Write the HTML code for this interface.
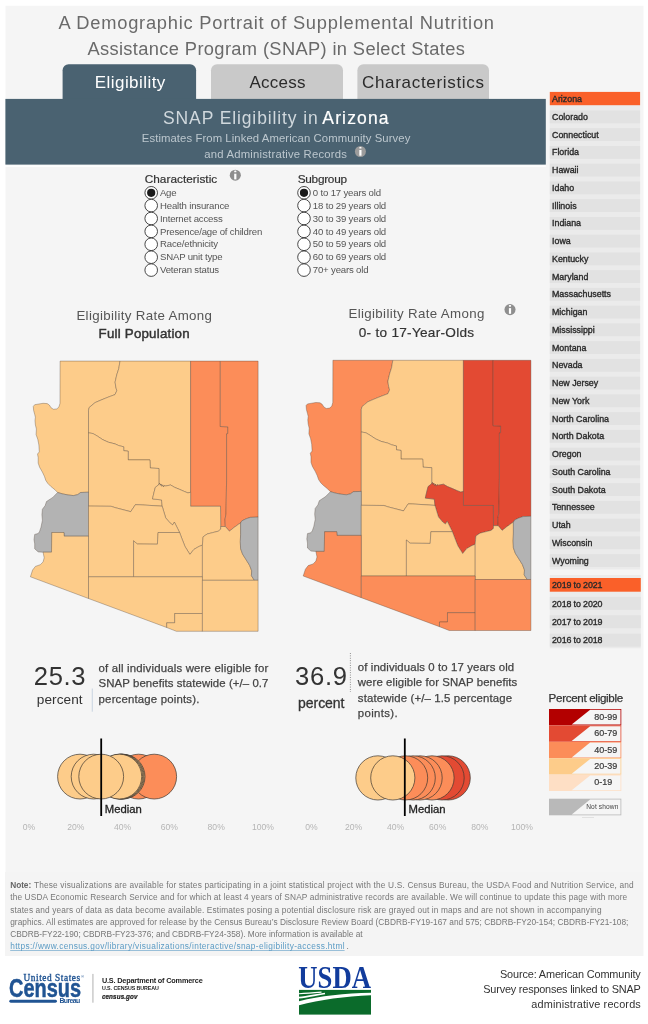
<!DOCTYPE html>
<html lang="en"><head><meta charset="utf-8"><title>SNAP Eligibility in Arizona</title>
<style>
html,body{margin:0;padding:0;background:#fff;}
body{width:648px;height:1024px;overflow:hidden;font-family:"Liberation Sans",sans-serif;}
svg{display:block}
</style></head><body>
<svg width="648" height="1024" viewBox="0 0 648 1024">
<rect x="0" y="0" width="648" height="1024" fill="#ffffff"/>
<rect x="5.5" y="5.8" width="638" height="950.2" fill="#f5f5f5"/>
<text x="58.5" y="28.8" font-size="18.3" fill="#6a6a6a" font-family="Liberation Sans, sans-serif" textLength="435.5" lengthAdjust="spacing" >A Demographic Portrait of Supplemental Nutrition</text>
<text x="87.4" y="54.6" font-size="18.3" fill="#6a6a6a" font-family="Liberation Sans, sans-serif" textLength="377.5" lengthAdjust="spacing" >Assistance Program (SNAP) in Select States</text>
<path d="M62.6 99 V70.2 a6 6 0 0 1 6 -6 H190.1 a6 6 0 0 1 6 6 V99 Z" fill="#4a6271"/>
<path d="M211 99 V70.2 a6 6 0 0 1 6 -6 H337 a6 6 0 0 1 6 6 V99 Z" fill="#c9c9c9"/>
<path d="M357.4 99 V70.2 a6 6 0 0 1 6 -6 H483 a6 6 0 0 1 6 6 V99 Z" fill="#c9c9c9"/>
<text x="94.8" y="88.0" font-size="17" fill="#ffffff" font-family="Liberation Sans, sans-serif" textLength="70.5" lengthAdjust="spacing" >Eligibility</text>
<text x="249.5" y="88.0" font-size="17" fill="#2b2b2b" font-family="Liberation Sans, sans-serif" textLength="56.0" lengthAdjust="spacing" >Access</text>
<text x="362.0" y="88.0" font-size="17" fill="#2b2b2b" font-family="Liberation Sans, sans-serif" textLength="122.0" lengthAdjust="spacing" >Characteristics</text>
<rect x="5.4" y="98.9" width="540.4" height="65.7" fill="#4a6271"/>
<rect x="5" y="165.4" width="540.8" height="1.4" fill="#ffffff"/>
<text x="163.0" y="124.4" font-size="17.5" fill="#d0d8dd" font-family="Liberation Sans, sans-serif" textLength="154.7" lengthAdjust="spacing" >SNAP Eligibility in</text>
<text x="322.3" y="124.4" font-size="17.5" fill="#ffffff" font-family="Liberation Sans, sans-serif" textLength="66.2" lengthAdjust="spacing" stroke="#ffffff" stroke-width="0.2" >Arizona</text>
<text x="141.8" y="142.4" font-size="11.3" fill="#bcc7ce" font-family="Liberation Sans, sans-serif" textLength="268.5" lengthAdjust="spacing" >Estimates From Linked American Community Survey</text>
<text x="204.3" y="158.2" font-size="11.3" fill="#bcc7ce" font-family="Liberation Sans, sans-serif" textLength="142.6" lengthAdjust="spacing" >and Administrative Records</text>
<circle cx="360.4" cy="151.5" r="5.5" fill="#9c9c9c"/>
<rect x="359.3" y="150.0" width="2.2" height="5.7" fill="#ffffff"/>
<rect x="359.3" y="146.9" width="2.2" height="1.7" rx="0.6" fill="#ffffff"/>
<text x="144.7" y="182.6" font-size="11.8" fill="#333" font-family="Liberation Sans, sans-serif" textLength="72.5" lengthAdjust="spacing" stroke="#333" stroke-width="0.2" >Characteristic</text>
<circle cx="235.3" cy="175.2" r="5.55" fill="#8e8e8e"/>
<rect x="234.2" y="173.7" width="2.2" height="5.7" fill="#ffffff"/>
<rect x="234.2" y="170.6" width="2.2" height="1.7" rx="0.6" fill="#ffffff"/>
<text x="297.7" y="182.6" font-size="11.8" fill="#333" font-family="Liberation Sans, sans-serif" textLength="49.3" lengthAdjust="spacing" stroke="#333" stroke-width="0.2" >Subgroup</text>
<circle cx="151.2" cy="192.8" r="6.3" fill="#ffffff" stroke="#333" stroke-width="0.9"/>
<circle cx="151.2" cy="192.8" r="4.1" fill="#1a1a1a"/>
<text x="160.0" y="195.9" font-size="9.6" fill="#555" font-family="Liberation Sans, sans-serif" textLength="16.5" lengthAdjust="spacing" >Age</text>
<circle cx="304" cy="192.8" r="6.3" fill="#ffffff" stroke="#333" stroke-width="0.9"/>
<circle cx="304" cy="192.8" r="4.1" fill="#1a1a1a"/>
<text x="312.8" y="195.9" font-size="9.6" fill="#555" font-family="Liberation Sans, sans-serif" textLength="68.3" lengthAdjust="spacing" >0 to 17 years old</text>
<circle cx="151.2" cy="205.6" r="6.3" fill="#ffffff" stroke="#333" stroke-width="0.9"/>
<text x="160.0" y="208.7" font-size="9.6" fill="#555" font-family="Liberation Sans, sans-serif" textLength="69.4" lengthAdjust="spacing" >Health insurance</text>
<circle cx="304" cy="205.6" r="6.3" fill="#ffffff" stroke="#333" stroke-width="0.9"/>
<text x="312.8" y="208.7" font-size="9.6" fill="#555" font-family="Liberation Sans, sans-serif" textLength="73.4" lengthAdjust="spacing" >18 to 29 years old</text>
<circle cx="151.2" cy="218.5" r="6.3" fill="#ffffff" stroke="#333" stroke-width="0.9"/>
<text x="160.0" y="221.6" font-size="9.6" fill="#555" font-family="Liberation Sans, sans-serif" textLength="62.7" lengthAdjust="spacing" >Internet access</text>
<circle cx="304" cy="218.5" r="6.3" fill="#ffffff" stroke="#333" stroke-width="0.9"/>
<text x="312.8" y="221.6" font-size="9.6" fill="#555" font-family="Liberation Sans, sans-serif" textLength="73.4" lengthAdjust="spacing" >30 to 39 years old</text>
<circle cx="151.2" cy="231.4" r="6.3" fill="#ffffff" stroke="#333" stroke-width="0.9"/>
<text x="160.0" y="234.5" font-size="9.6" fill="#555" font-family="Liberation Sans, sans-serif" textLength="102.3" lengthAdjust="spacing" >Presence/age of children</text>
<circle cx="304" cy="231.4" r="6.3" fill="#ffffff" stroke="#333" stroke-width="0.9"/>
<text x="312.8" y="234.5" font-size="9.6" fill="#555" font-family="Liberation Sans, sans-serif" textLength="73.4" lengthAdjust="spacing" >40 to 49 years old</text>
<circle cx="151.2" cy="244.3" r="6.3" fill="#ffffff" stroke="#333" stroke-width="0.9"/>
<text x="160.0" y="247.4" font-size="9.6" fill="#555" font-family="Liberation Sans, sans-serif" textLength="58.1" lengthAdjust="spacing" >Race/ethnicity</text>
<circle cx="304" cy="244.3" r="6.3" fill="#ffffff" stroke="#333" stroke-width="0.9"/>
<text x="312.8" y="247.4" font-size="9.6" fill="#555" font-family="Liberation Sans, sans-serif" textLength="73.4" lengthAdjust="spacing" >50 to 59 years old</text>
<circle cx="151.2" cy="257.2" r="6.3" fill="#ffffff" stroke="#333" stroke-width="0.9"/>
<text x="160.0" y="260.3" font-size="9.6" fill="#555" font-family="Liberation Sans, sans-serif" textLength="62.5" lengthAdjust="spacing" >SNAP unit type</text>
<circle cx="304" cy="257.2" r="6.3" fill="#ffffff" stroke="#333" stroke-width="0.9"/>
<text x="312.8" y="260.3" font-size="9.6" fill="#555" font-family="Liberation Sans, sans-serif" textLength="73.4" lengthAdjust="spacing" >60 to 69 years old</text>
<circle cx="151.2" cy="270.1" r="6.3" fill="#ffffff" stroke="#333" stroke-width="0.9"/>
<text x="160.0" y="273.2" font-size="9.6" fill="#555" font-family="Liberation Sans, sans-serif" textLength="59.1" lengthAdjust="spacing" >Veteran status</text>
<circle cx="304" cy="270.1" r="6.3" fill="#ffffff" stroke="#333" stroke-width="0.9"/>
<text x="312.8" y="273.2" font-size="9.6" fill="#555" font-family="Liberation Sans, sans-serif" textLength="55.7" lengthAdjust="spacing" >70+ years old</text>
<text x="76.4" y="319.7" font-size="13.3" fill="#555" font-family="Liberation Sans, sans-serif" textLength="135.5" lengthAdjust="spacing" >Eligibility Rate Among</text>
<text x="98.6" y="338.3" font-size="13.3" fill="#333" font-family="Liberation Sans, sans-serif" textLength="91.0" lengthAdjust="spacing" stroke="#333" stroke-width="0.45" >Full Population</text>
<text x="348.5" y="318.2" font-size="13.3" fill="#555" font-family="Liberation Sans, sans-serif" textLength="135.8" lengthAdjust="spacing" >Eligibility Rate Among</text>
<text x="358.7" y="336.8" font-size="13.6" fill="#333" font-family="Liberation Sans, sans-serif" textLength="115.4" lengthAdjust="spacing" stroke="#333" stroke-width="0.2" >0- to 17-Year-Olds</text>
<circle cx="510.0" cy="309.6" r="5.55" fill="#8e8e8e"/>
<rect x="508.9" y="308.1" width="2.2" height="5.7" fill="#ffffff"/>
<rect x="508.9" y="305.0" width="2.2" height="1.7" rx="0.6" fill="#ffffff"/>
<g transform="translate(0,0)" stroke="#4f4337" stroke-opacity="0.5" stroke-width="0.7" stroke-linejoin="round">
<path d="M60.1 361.1 L120.0 361.1 L118.8 368.5 L116.8 374.7 L115.1 382.1 L115.8 387.0 L116.8 390.7 L115.0 394.6 L108.3 397.1 L101.4 399.9 L95.1 402.6 L91.7 405.4 L89.2 407.5 L88.5 410.3 L88.5 492.2 L80.6 492.5 L77.8 494.6 L73.6 495.6 L68.1 495.0 L62.5 493.9 L57.6 492.5 L54.9 489.7 L50.7 486.3 L47.9 483.5 L45.8 480.4 L44.4 476.3 L42.4 472.1 L39.6 467.2 L38.2 463.1 L38.2 457.5 L37.5 454.0 L39.3 451.9 L38.9 445.0 L37.8 439.4 L36.1 434.6 L36.4 429.0 L35.4 424.9 L35.0 420.7 L35.4 417.2 L34.7 414.4 L33.6 410.3 L33.3 406.4 L34.7 404.7 L38.9 404.0 L43.1 403.3 L47.2 403.6 L49.3 405.0 L51.1 407.8 L53.5 409.3 L56.9 408.9 L59.0 406.8 L60.0 403.3 Z" fill="#fdcc8a"/>
<path d="M120.0 361.1 L190.6 361.1 L190.6 492.3 L187.9 492.9 L184.4 491.5 L179.6 489.4 L174.7 487.4 L170.6 485.0 L165.7 486.0 L164.5 485.5 L163.6 487.0 L162.7 484.9 L161.8 486.4 L161.0 484.0 L160.3 485.4 L159.6 483.3 L158.9 484.5 L158.9 483.4 L158.9 468.5 L150.3 468.0 L149.9 459.9 L128.2 459.9 L128.2 451.2 L123.7 450.7 L123.7 446.8 L118.8 445.6 L115.0 443.9 L108.3 442.2 L102.8 439.7 L97.2 436.0 L93.1 433.6 L88.5 432.8 L88.5 410.3 L89.2 407.5 L91.7 405.4 L95.1 402.6 L101.4 399.9 L108.3 397.1 L115.0 394.6 L116.8 390.7 L115.8 387.0 L115.1 382.1 L116.8 374.7 L118.8 368.5 Z" fill="#fdcc8a"/>
<path d="M190.6 361.1 L220.3 361.1 L220.3 426.5 L227.8 426.8 L227.8 433.5 L226.6 433.8 L226.6 480.0 L226.0 513.9 L225.0 519.4 L225.3 526.5 L220.7 526.5 L220.5 506.3 L190.6 506.3 Z" fill="#fc8d59"/>
<path d="M220.3 361.1 L258.1 361.1 L258.1 517.1 L250.3 517.4 L246.1 518.8 L241.9 520.8 L240.6 522.9 L238.5 524.3 L233.6 527.8 L229.4 531.2 L225.3 526.5 L225.0 519.4 L226.0 513.9 L226.6 480.0 L226.6 433.8 L227.8 433.5 L227.8 426.8 L220.3 426.5 L220.3 361.1 Z" fill="#fc8d59"/>
<path d="M88.5 432.8 L93.1 433.6 L97.2 436.0 L102.8 439.7 L108.3 442.2 L115.0 443.9 L118.8 445.6 L123.7 446.8 L123.7 450.7 L128.2 451.2 L128.2 459.9 L149.9 459.9 L150.3 468.0 L158.9 468.5 L158.9 483.4 L158.9 484.5 L155.3 487.4 L153.9 492.9 L152.5 498.9 L161.5 499.9 L162.2 506.2 L140.0 504.8 L135.4 504.7 L130.7 511.7 L115.0 507.6 L111.1 506.3 L88.5 506.1 Z" fill="#fdcc8a"/>
<path d="M158.9 484.5 L159.6 483.3 L160.3 485.4 L161.0 484.0 L161.8 486.4 L162.7 484.9 L163.6 487.0 L164.5 485.5 L165.7 486.0 L170.6 485.0 L174.7 487.4 L179.6 489.4 L184.4 491.5 L187.9 492.9 L190.6 492.3 L190.6 506.3 L220.5 506.3 L220.7 526.5 L220.7 529.2 L218.3 531.2 L212.8 532.6 L207.2 534.0 L203.1 536.8 L202.8 540.3 L202.4 545.1 L198.9 546.5 L194.0 549.3 L189.9 554.4 L185.0 546.5 L181.7 538.1 L179.6 532.5 L177.5 528.3 L174.4 522.1 L172.6 524.9 L169.9 522.8 L165.7 517.9 L163.6 511.0 L162.2 506.2 L161.5 499.9 L152.5 498.9 L153.9 492.9 L155.3 487.4 Z" fill="#fdcc8a"/>
<path d="M57.6 492.5 L62.5 493.9 L68.1 495.0 L73.6 495.6 L77.8 494.6 L80.6 492.5 L88.5 492.2 L88.5 536.2 L64.2 536.2 L63.9 532.5 L51.8 532.5 L51.5 552.2 L43.1 552.2 L38.2 551.9 L34.7 548.8 L34.7 543.9 L34.0 539.7 L34.7 534.4 L38.2 533.5 L39.6 531.4 L41.0 527.2 L42.4 520.3 L41.9 514.7 L42.4 509.2 L45.1 505.7 L46.5 501.5 L52.8 497.4 Z" fill="#b3b3b3"/>
<path d="M88.5 506.1 L111.1 506.3 L115.0 507.6 L130.7 511.7 L135.4 504.7 L140.0 504.8 L162.2 506.2 L163.6 511.0 L165.7 517.9 L169.9 522.8 L172.6 524.9 L174.4 522.1 L177.5 528.3 L179.6 532.5 L158.1 532.5 L157.4 544.2 L137.3 544.0 L133.6 540.8 L133.6 576.8 L88.5 576.8 Z" fill="#fdcc8a"/>
<path d="M133.6 576.8 L133.6 540.8 L137.3 544.0 L157.4 544.2 L158.1 532.5 L179.6 532.5 L181.7 538.1 L185.0 546.5 L189.9 554.4 L194.0 549.3 L198.9 546.5 L202.4 545.1 L202.4 576.8 Z" fill="#fdcc8a"/>
<path d="M202.4 545.1 L202.8 540.3 L203.1 536.8 L207.2 534.0 L212.8 532.6 L218.3 531.2 L220.7 529.2 L220.7 526.5 L225.3 526.5 L229.4 531.2 L233.6 527.8 L238.5 524.3 L240.6 522.9 L240.6 534.7 L240.3 541.7 L240.6 548.6 L242.6 554.2 L246.1 559.7 L249.6 565.3 L251.7 570.8 L251.4 575.7 L254.4 580.3 L202.4 580.3 Z" fill="#fdcc8a"/>
<path d="M240.6 522.9 L241.9 520.8 L246.1 518.8 L250.3 517.4 L258.1 517.1 L258.1 580.3 L254.4 580.3 L251.4 575.7 L251.7 570.8 L249.6 565.3 L246.1 559.7 L242.6 554.2 L240.6 548.6 L240.3 541.7 L240.6 534.7 Z" fill="#b3b3b3"/>
<path d="M43.1 552.2 L51.5 552.2 L51.8 532.5 L63.9 532.5 L64.2 536.2 L88.5 536.2 L88.5 598.5 L30.4 576.8 L32.6 570.0 L35.4 566.4 L40.3 564.7 L43.1 561.9 L44.2 557.8 Z" fill="#fdcc8a"/>
<path d="M88.5 576.8 L202.4 576.8 L202.4 613.5 L174.7 613.5 L174.7 622.8 L166.7 622.8 L166.7 627.5 L88.5 598.5 Z" fill="#fdcc8a"/>
<path d="M166.7 627.5 L166.7 622.8 L174.7 622.8 L174.7 613.5 L202.4 613.5 L202.4 631.3 L176.4 631.3 Z" fill="#fdcc8a"/>
<path d="M202.4 580.3 L258.1 580.3 L258.1 631.3 L202.4 631.3 Z" fill="#fdcc8a"/>
</g>
<g transform="translate(272.8,-0.8)" stroke="#4f4337" stroke-opacity="0.5" stroke-width="0.7" stroke-linejoin="round">
<path d="M60.1 361.1 L120.0 361.1 L118.8 368.5 L116.8 374.7 L115.1 382.1 L115.8 387.0 L116.8 390.7 L115.0 394.6 L108.3 397.1 L101.4 399.9 L95.1 402.6 L91.7 405.4 L89.2 407.5 L88.5 410.3 L88.5 492.2 L80.6 492.5 L77.8 494.6 L73.6 495.6 L68.1 495.0 L62.5 493.9 L57.6 492.5 L54.9 489.7 L50.7 486.3 L47.9 483.5 L45.8 480.4 L44.4 476.3 L42.4 472.1 L39.6 467.2 L38.2 463.1 L38.2 457.5 L37.5 454.0 L39.3 451.9 L38.9 445.0 L37.8 439.4 L36.1 434.6 L36.4 429.0 L35.4 424.9 L35.0 420.7 L35.4 417.2 L34.7 414.4 L33.6 410.3 L33.3 406.4 L34.7 404.7 L38.9 404.0 L43.1 403.3 L47.2 403.6 L49.3 405.0 L51.1 407.8 L53.5 409.3 L56.9 408.9 L59.0 406.8 L60.0 403.3 Z" fill="#fc8d59"/>
<path d="M120.0 361.1 L190.6 361.1 L190.6 492.3 L187.9 492.9 L184.4 491.5 L179.6 489.4 L174.7 487.4 L170.6 485.0 L165.7 486.0 L164.5 485.5 L163.6 487.0 L162.7 484.9 L161.8 486.4 L161.0 484.0 L160.3 485.4 L159.6 483.3 L158.9 484.5 L158.9 483.4 L158.9 468.5 L150.3 468.0 L149.9 459.9 L128.2 459.9 L128.2 451.2 L123.7 450.7 L123.7 446.8 L118.8 445.6 L115.0 443.9 L108.3 442.2 L102.8 439.7 L97.2 436.0 L93.1 433.6 L88.5 432.8 L88.5 410.3 L89.2 407.5 L91.7 405.4 L95.1 402.6 L101.4 399.9 L108.3 397.1 L115.0 394.6 L116.8 390.7 L115.8 387.0 L115.1 382.1 L116.8 374.7 L118.8 368.5 Z" fill="#fdcc8a"/>
<path d="M190.6 361.1 L220.3 361.1 L220.3 426.5 L227.8 426.8 L227.8 433.5 L226.6 433.8 L226.6 480.0 L226.0 513.9 L225.0 519.4 L225.3 526.5 L220.7 526.5 L220.5 506.3 L190.6 506.3 Z" fill="#e34a33"/>
<path d="M220.3 361.1 L258.1 361.1 L258.1 517.1 L250.3 517.4 L246.1 518.8 L241.9 520.8 L240.6 522.9 L238.5 524.3 L233.6 527.8 L229.4 531.2 L225.3 526.5 L225.0 519.4 L226.0 513.9 L226.6 480.0 L226.6 433.8 L227.8 433.5 L227.8 426.8 L220.3 426.5 L220.3 361.1 Z" fill="#e34a33"/>
<path d="M88.5 432.8 L93.1 433.6 L97.2 436.0 L102.8 439.7 L108.3 442.2 L115.0 443.9 L118.8 445.6 L123.7 446.8 L123.7 450.7 L128.2 451.2 L128.2 459.9 L149.9 459.9 L150.3 468.0 L158.9 468.5 L158.9 483.4 L158.9 484.5 L155.3 487.4 L153.9 492.9 L152.5 498.9 L161.5 499.9 L162.2 506.2 L140.0 504.8 L135.4 504.7 L130.7 511.7 L115.0 507.6 L111.1 506.3 L88.5 506.1 Z" fill="#fdcc8a"/>
<path d="M158.9 484.5 L159.6 483.3 L160.3 485.4 L161.0 484.0 L161.8 486.4 L162.7 484.9 L163.6 487.0 L164.5 485.5 L165.7 486.0 L170.6 485.0 L174.7 487.4 L179.6 489.4 L184.4 491.5 L187.9 492.9 L190.6 492.3 L190.6 506.3 L220.5 506.3 L220.7 526.5 L220.7 529.2 L218.3 531.2 L212.8 532.6 L207.2 534.0 L203.1 536.8 L202.8 540.3 L202.4 545.1 L198.9 546.5 L194.0 549.3 L189.9 554.4 L185.0 546.5 L181.7 538.1 L179.6 532.5 L177.5 528.3 L174.4 522.1 L172.6 524.9 L169.9 522.8 L165.7 517.9 L163.6 511.0 L162.2 506.2 L161.5 499.9 L152.5 498.9 L153.9 492.9 L155.3 487.4 Z" fill="#e34a33"/>
<path d="M57.6 492.5 L62.5 493.9 L68.1 495.0 L73.6 495.6 L77.8 494.6 L80.6 492.5 L88.5 492.2 L88.5 536.2 L64.2 536.2 L63.9 532.5 L51.8 532.5 L51.5 552.2 L43.1 552.2 L38.2 551.9 L34.7 548.8 L34.7 543.9 L34.0 539.7 L34.7 534.4 L38.2 533.5 L39.6 531.4 L41.0 527.2 L42.4 520.3 L41.9 514.7 L42.4 509.2 L45.1 505.7 L46.5 501.5 L52.8 497.4 Z" fill="#b3b3b3"/>
<path d="M88.5 506.1 L111.1 506.3 L115.0 507.6 L130.7 511.7 L135.4 504.7 L140.0 504.8 L162.2 506.2 L163.6 511.0 L165.7 517.9 L169.9 522.8 L172.6 524.9 L174.4 522.1 L177.5 528.3 L179.6 532.5 L158.1 532.5 L157.4 544.2 L137.3 544.0 L133.6 540.8 L133.6 576.8 L88.5 576.8 Z" fill="#fdcc8a"/>
<path d="M133.6 576.8 L133.6 540.8 L137.3 544.0 L157.4 544.2 L158.1 532.5 L179.6 532.5 L181.7 538.1 L185.0 546.5 L189.9 554.4 L194.0 549.3 L198.9 546.5 L202.4 545.1 L202.4 576.8 Z" fill="#fdcc8a"/>
<path d="M202.4 545.1 L202.8 540.3 L203.1 536.8 L207.2 534.0 L212.8 532.6 L218.3 531.2 L220.7 529.2 L220.7 526.5 L225.3 526.5 L229.4 531.2 L233.6 527.8 L238.5 524.3 L240.6 522.9 L240.6 534.7 L240.3 541.7 L240.6 548.6 L242.6 554.2 L246.1 559.7 L249.6 565.3 L251.7 570.8 L251.4 575.7 L254.4 580.3 L202.4 580.3 Z" fill="#fdcc8a"/>
<path d="M240.6 522.9 L241.9 520.8 L246.1 518.8 L250.3 517.4 L258.1 517.1 L258.1 580.3 L254.4 580.3 L251.4 575.7 L251.7 570.8 L249.6 565.3 L246.1 559.7 L242.6 554.2 L240.6 548.6 L240.3 541.7 L240.6 534.7 Z" fill="#b3b3b3"/>
<path d="M43.1 552.2 L51.5 552.2 L51.8 532.5 L63.9 532.5 L64.2 536.2 L88.5 536.2 L88.5 598.5 L30.4 576.8 L32.6 570.0 L35.4 566.4 L40.3 564.7 L43.1 561.9 L44.2 557.8 Z" fill="#fc8d59"/>
<path d="M88.5 576.8 L202.4 576.8 L202.4 613.5 L174.7 613.5 L174.7 622.8 L166.7 622.8 L166.7 627.5 L88.5 598.5 Z" fill="#fc8d59"/>
<path d="M166.7 627.5 L166.7 622.8 L174.7 622.8 L174.7 613.5 L202.4 613.5 L202.4 631.3 L176.4 631.3 Z" fill="#fc8d59"/>
<path d="M202.4 580.3 L258.1 580.3 L258.1 631.3 L202.4 631.3 Z" fill="#fc8d59"/>
</g>
<rect x="549.8" y="105" width="90.3" height="464.5" fill="#ebebeb"/>
<rect x="549.8" y="91.9" width="90.3" height="13.3" fill="#fa6029"/>
<text x="552.0" y="102.1" font-size="8.85" fill="#2a2a2a" font-family="Liberation Sans, sans-serif" stroke="#2a2a2a" stroke-width="0.35" >Arizona</text>
<rect x="549.8" y="110.5" width="90.3" height="12.8" fill="#e2e2e2"/>
<text x="552.0" y="119.9" font-size="8.85" fill="#2a2a2a" font-family="Liberation Sans, sans-serif" stroke="#2a2a2a" stroke-width="0.35" >Colorado</text>
<rect x="549.8" y="128.2" width="90.3" height="12.8" fill="#e2e2e2"/>
<text x="552.0" y="137.6" font-size="8.85" fill="#2a2a2a" font-family="Liberation Sans, sans-serif" stroke="#2a2a2a" stroke-width="0.35" >Connecticut</text>
<rect x="549.8" y="146.0" width="90.3" height="12.8" fill="#e2e2e2"/>
<text x="552.0" y="155.4" font-size="8.85" fill="#2a2a2a" font-family="Liberation Sans, sans-serif" stroke="#2a2a2a" stroke-width="0.35" >Florida</text>
<rect x="549.8" y="163.7" width="90.3" height="12.8" fill="#e2e2e2"/>
<text x="552.0" y="173.1" font-size="8.85" fill="#2a2a2a" font-family="Liberation Sans, sans-serif" stroke="#2a2a2a" stroke-width="0.35" >Hawaii</text>
<rect x="549.8" y="181.5" width="90.3" height="12.8" fill="#e2e2e2"/>
<text x="552.0" y="190.9" font-size="8.85" fill="#2a2a2a" font-family="Liberation Sans, sans-serif" stroke="#2a2a2a" stroke-width="0.35" >Idaho</text>
<rect x="549.8" y="199.2" width="90.3" height="12.8" fill="#e2e2e2"/>
<text x="552.0" y="208.6" font-size="8.85" fill="#2a2a2a" font-family="Liberation Sans, sans-serif" stroke="#2a2a2a" stroke-width="0.35" >Illinois</text>
<rect x="549.8" y="217.0" width="90.3" height="12.8" fill="#e2e2e2"/>
<text x="552.0" y="226.4" font-size="8.85" fill="#2a2a2a" font-family="Liberation Sans, sans-serif" stroke="#2a2a2a" stroke-width="0.35" >Indiana</text>
<rect x="549.8" y="234.7" width="90.3" height="12.8" fill="#e2e2e2"/>
<text x="552.0" y="244.1" font-size="8.85" fill="#2a2a2a" font-family="Liberation Sans, sans-serif" stroke="#2a2a2a" stroke-width="0.35" >Iowa</text>
<rect x="549.8" y="252.5" width="90.3" height="12.8" fill="#e2e2e2"/>
<text x="552.0" y="261.9" font-size="8.85" fill="#2a2a2a" font-family="Liberation Sans, sans-serif" stroke="#2a2a2a" stroke-width="0.35" >Kentucky</text>
<rect x="549.8" y="270.2" width="90.3" height="12.8" fill="#e2e2e2"/>
<text x="552.0" y="279.6" font-size="8.85" fill="#2a2a2a" font-family="Liberation Sans, sans-serif" stroke="#2a2a2a" stroke-width="0.35" >Maryland</text>
<rect x="549.8" y="287.9" width="90.3" height="12.8" fill="#e2e2e2"/>
<text x="552.0" y="297.4" font-size="8.85" fill="#2a2a2a" font-family="Liberation Sans, sans-serif" stroke="#2a2a2a" stroke-width="0.35" >Massachusetts</text>
<rect x="549.8" y="305.7" width="90.3" height="12.8" fill="#e2e2e2"/>
<text x="552.0" y="315.1" font-size="8.85" fill="#2a2a2a" font-family="Liberation Sans, sans-serif" stroke="#2a2a2a" stroke-width="0.35" >Michigan</text>
<rect x="549.8" y="323.4" width="90.3" height="12.8" fill="#e2e2e2"/>
<text x="552.0" y="332.9" font-size="8.85" fill="#2a2a2a" font-family="Liberation Sans, sans-serif" stroke="#2a2a2a" stroke-width="0.35" >Mississippi</text>
<rect x="549.8" y="341.2" width="90.3" height="12.8" fill="#e2e2e2"/>
<text x="552.0" y="350.6" font-size="8.85" fill="#2a2a2a" font-family="Liberation Sans, sans-serif" stroke="#2a2a2a" stroke-width="0.35" >Montana</text>
<rect x="549.8" y="358.9" width="90.3" height="12.8" fill="#e2e2e2"/>
<text x="552.0" y="368.4" font-size="8.85" fill="#2a2a2a" font-family="Liberation Sans, sans-serif" stroke="#2a2a2a" stroke-width="0.35" >Nevada</text>
<rect x="549.8" y="376.7" width="90.3" height="12.8" fill="#e2e2e2"/>
<text x="552.0" y="386.1" font-size="8.85" fill="#2a2a2a" font-family="Liberation Sans, sans-serif" stroke="#2a2a2a" stroke-width="0.35" >New Jersey</text>
<rect x="549.8" y="394.4" width="90.3" height="12.8" fill="#e2e2e2"/>
<text x="552.0" y="403.9" font-size="8.85" fill="#2a2a2a" font-family="Liberation Sans, sans-serif" stroke="#2a2a2a" stroke-width="0.35" >New York</text>
<rect x="549.8" y="412.2" width="90.3" height="12.8" fill="#e2e2e2"/>
<text x="552.0" y="421.6" font-size="8.85" fill="#2a2a2a" font-family="Liberation Sans, sans-serif" stroke="#2a2a2a" stroke-width="0.35" >North Carolina</text>
<rect x="549.8" y="429.9" width="90.3" height="12.8" fill="#e2e2e2"/>
<text x="552.0" y="439.4" font-size="8.85" fill="#2a2a2a" font-family="Liberation Sans, sans-serif" stroke="#2a2a2a" stroke-width="0.35" >North Dakota</text>
<rect x="549.8" y="447.7" width="90.3" height="12.8" fill="#e2e2e2"/>
<text x="552.0" y="457.1" font-size="8.85" fill="#2a2a2a" font-family="Liberation Sans, sans-serif" stroke="#2a2a2a" stroke-width="0.35" >Oregon</text>
<rect x="549.8" y="465.4" width="90.3" height="12.8" fill="#e2e2e2"/>
<text x="552.0" y="474.9" font-size="8.85" fill="#2a2a2a" font-family="Liberation Sans, sans-serif" stroke="#2a2a2a" stroke-width="0.35" >South Carolina</text>
<rect x="549.8" y="483.2" width="90.3" height="12.8" fill="#e2e2e2"/>
<text x="552.0" y="492.6" font-size="8.85" fill="#2a2a2a" font-family="Liberation Sans, sans-serif" stroke="#2a2a2a" stroke-width="0.35" >South Dakota</text>
<rect x="549.8" y="500.9" width="90.3" height="12.8" fill="#e2e2e2"/>
<text x="552.0" y="510.4" font-size="8.85" fill="#2a2a2a" font-family="Liberation Sans, sans-serif" stroke="#2a2a2a" stroke-width="0.35" >Tennessee</text>
<rect x="549.8" y="518.7" width="90.3" height="12.8" fill="#e2e2e2"/>
<text x="552.0" y="528.1" font-size="8.85" fill="#2a2a2a" font-family="Liberation Sans, sans-serif" stroke="#2a2a2a" stroke-width="0.35" >Utah</text>
<rect x="549.8" y="536.4" width="90.3" height="12.8" fill="#e2e2e2"/>
<text x="552.0" y="545.9" font-size="8.85" fill="#2a2a2a" font-family="Liberation Sans, sans-serif" stroke="#2a2a2a" stroke-width="0.35" >Wisconsin</text>
<rect x="549.8" y="554.2" width="90.3" height="12.8" fill="#e2e2e2"/>
<text x="552.0" y="563.6" font-size="8.85" fill="#2a2a2a" font-family="Liberation Sans, sans-serif" stroke="#2a2a2a" stroke-width="0.35" >Wyoming</text>
<rect x="549.8" y="575" width="91" height="73.3" fill="#ebebeb"/>
<rect x="549.8" y="578" width="91" height="13.7" fill="#fa6029"/>
<text x="552.0" y="588.2" font-size="8.9" fill="#2a2a2a" font-family="Liberation Sans, sans-serif" textLength="50.5" lengthAdjust="spacing" stroke="#2a2a2a" stroke-width="0.35" >2019 to 2021</text>
<rect x="549.8" y="596.9" width="91" height="12.9" fill="#e2e2e2"/>
<text x="552.0" y="606.6" font-size="8.9" fill="#2a2a2a" font-family="Liberation Sans, sans-serif" textLength="50.5" lengthAdjust="spacing" stroke="#2a2a2a" stroke-width="0.35" >2018 to 2020</text>
<rect x="549.8" y="615.3" width="91" height="12.9" fill="#e2e2e2"/>
<text x="552.0" y="625.0" font-size="8.9" fill="#2a2a2a" font-family="Liberation Sans, sans-serif" textLength="50.5" lengthAdjust="spacing" stroke="#2a2a2a" stroke-width="0.35" >2017 to 2019</text>
<rect x="549.8" y="633.7" width="91" height="12.9" fill="#e2e2e2"/>
<text x="552.0" y="643.4" font-size="8.9" fill="#2a2a2a" font-family="Liberation Sans, sans-serif" textLength="50.5" lengthAdjust="spacing" stroke="#2a2a2a" stroke-width="0.35" >2016 to 2018</text>
<text x="548.6" y="702.3" font-size="11.6" fill="#333" font-family="Liberation Sans, sans-serif" textLength="74.5" lengthAdjust="spacing" stroke="#333" stroke-width="0.25" >Percent eligible</text>
<rect x="549" y="709.0" width="72.3" height="16.4" fill="#b30000"/>
<path d="M590.1 709.8 H620.5 V724.6 H571.7 Z" fill="#f5f5f5"/>
<text x="594.2" y="719.7" font-size="9.0" fill="#3a3a3a" font-family="Liberation Sans, sans-serif" stroke="#3a3a3a" stroke-width="0.2" >80-99</text>
<rect x="549" y="725.4" width="72.3" height="16.4" fill="#e34a33"/>
<path d="M590.1 726.2 H620.5 V741.0 H571.7 Z" fill="#f5f5f5"/>
<text x="594.2" y="736.1" font-size="9.0" fill="#3a3a3a" font-family="Liberation Sans, sans-serif" stroke="#3a3a3a" stroke-width="0.2" >60-79</text>
<rect x="549" y="741.8" width="72.3" height="16.4" fill="#fc8d59"/>
<path d="M590.1 742.6 H620.5 V757.4 H571.7 Z" fill="#f5f5f5"/>
<text x="594.2" y="752.5" font-size="9.0" fill="#3a3a3a" font-family="Liberation Sans, sans-serif" stroke="#3a3a3a" stroke-width="0.2" >40-59</text>
<rect x="549" y="758.2" width="72.3" height="16.4" fill="#fdcc8a"/>
<path d="M590.1 759.0 H620.5 V773.8 H571.7 Z" fill="#f5f5f5"/>
<text x="594.2" y="768.9" font-size="9.0" fill="#3a3a3a" font-family="Liberation Sans, sans-serif" stroke="#3a3a3a" stroke-width="0.2" >20-39</text>
<rect x="549" y="774.6" width="72.3" height="16.4" fill="#fedfc5"/>
<path d="M590.1 775.4 H620.5 V790.2 H571.7 Z" fill="#f5f5f5"/>
<text x="594.2" y="785.3" font-size="9.0" fill="#3a3a3a" font-family="Liberation Sans, sans-serif" stroke="#3a3a3a" stroke-width="0.2" >0-19</text>
<rect x="549" y="798.7" width="72.3" height="16.6" fill="#b9b9b9"/>
<path d="M590.1 799.5 H620.5 V814.5 H571.7 Z" fill="#f5f5f5"/>
<text x="586.2" y="808.9" font-size="6.6" fill="#444" font-family="Liberation Sans, sans-serif" textLength="32.2" lengthAdjust="spacing" >Not shown</text>
<rect x="582" y="817" width="12" height="0.8" fill="#dcdcdc"/>
<text x="33.8" y="685.0" font-size="25.6" fill="#333" font-family="Liberation Sans, sans-serif" textLength="51.8" lengthAdjust="spacing" >25.3</text>
<text x="36.8" y="703.7" font-size="13.6" fill="#333" font-family="Liberation Sans, sans-serif" textLength="45.8" lengthAdjust="spacing" >percent</text>
<rect x="91.8" y="688.5" width="0.8" height="23.2" fill="#bccbdb"/>
<text x="98.6" y="671.8" font-size="11.4" fill="#444" font-family="Liberation Sans, sans-serif" textLength="169.8" lengthAdjust="spacing" stroke="#444" stroke-width="0.25" >of all individuals were eligible for</text>
<text x="98.6" y="687.3" font-size="11.4" fill="#444" font-family="Liberation Sans, sans-serif" textLength="169.8" lengthAdjust="spacing" stroke="#444" stroke-width="0.25" >SNAP benefits statewide (+/– 0.7</text>
<text x="98.6" y="703.0" font-size="11.4" fill="#444" font-family="Liberation Sans, sans-serif" textLength="100.7" lengthAdjust="spacing" stroke="#444" stroke-width="0.25" >percentage points).</text>
<text x="295.1" y="685.2" font-size="25.6" fill="#333" font-family="Liberation Sans, sans-serif" textLength="51.8" lengthAdjust="spacing" >36.9</text>
<text x="298.0" y="707.7" font-size="14" fill="#333" font-family="Liberation Sans, sans-serif" textLength="46.5" lengthAdjust="spacing" stroke="#333" stroke-width="0.3" >percent</text>
<line x1="350.4" y1="653" x2="350.4" y2="692" stroke="#6a6a6a" stroke-width="0.8" stroke-dasharray="0.9 1.5"/>
<text x="357.8" y="670.8" font-size="11.4" fill="#444" font-family="Liberation Sans, sans-serif" textLength="156.4" lengthAdjust="spacing" stroke="#444" stroke-width="0.25" >of individuals 0 to 17 years old</text>
<text x="357.8" y="686.3" font-size="11.4" fill="#444" font-family="Liberation Sans, sans-serif" textLength="159.5" lengthAdjust="spacing" stroke="#444" stroke-width="0.25" >were eligible for SNAP benefits</text>
<text x="357.8" y="701.7" font-size="11.4" fill="#444" font-family="Liberation Sans, sans-serif" textLength="154.3" lengthAdjust="spacing" stroke="#444" stroke-width="0.25" >statewide (+/– 1.5 percentage</text>
<text x="357.8" y="717.2" font-size="11.4" fill="#444" font-family="Liberation Sans, sans-serif" textLength="39.8" lengthAdjust="spacing" stroke="#444" stroke-width="0.25" >points).</text>
<circle cx="138.6" cy="776.6" r="22.4" fill="#fc8d59" stroke="#3d372f" stroke-width="0.7"/>
<circle cx="154.2" cy="776.6" r="22.4" fill="#fc8d59" stroke="#3d372f" stroke-width="0.7"/>
<circle cx="122.6" cy="776.6" r="22.4" fill="#fdcc8a" stroke="#3d372f" stroke-width="0.7"/>
<circle cx="121.8" cy="776.6" r="22.4" fill="#fdcc8a" stroke="#3d372f" stroke-width="0.7"/>
<circle cx="121.0" cy="776.6" r="22.4" fill="#fdcc8a" stroke="#3d372f" stroke-width="0.7"/>
<circle cx="120.2" cy="776.6" r="22.4" fill="#fdcc8a" stroke="#3d372f" stroke-width="0.7"/>
<circle cx="119.3" cy="776.6" r="22.4" fill="#fdcc8a" stroke="#3d372f" stroke-width="0.7"/>
<circle cx="80.0" cy="776.6" r="22.4" fill="#fdcc8a" stroke="#3d372f" stroke-width="0.7"/>
<circle cx="93.6" cy="776.6" r="22.4" fill="#fdcc8a" stroke="#3d372f" stroke-width="0.7"/>
<circle cx="101.2" cy="776.6" r="22.4" fill="#fdcc8a" stroke="#3d372f" stroke-width="0.7"/>
<rect x="100.3" y="738.5" width="1.8" height="77.5" fill="#000"/>
<text x="104.8" y="813.0" font-size="11.3" fill="#222" font-family="Liberation Sans, sans-serif" stroke="#222" stroke-width="0.3" >Median</text>
<text x="29.0" y="830.4" font-size="8.6" fill="#b5b5b5" font-family="Liberation Sans, sans-serif" text-anchor="middle" >0%</text>
<text x="75.8" y="830.4" font-size="8.6" fill="#b5b5b5" font-family="Liberation Sans, sans-serif" text-anchor="middle" >20%</text>
<text x="122.6" y="830.4" font-size="8.6" fill="#b5b5b5" font-family="Liberation Sans, sans-serif" text-anchor="middle" >40%</text>
<text x="169.4" y="830.4" font-size="8.6" fill="#b5b5b5" font-family="Liberation Sans, sans-serif" text-anchor="middle" >60%</text>
<text x="216.2" y="830.4" font-size="8.6" fill="#b5b5b5" font-family="Liberation Sans, sans-serif" text-anchor="middle" >80%</text>
<text x="263.0" y="830.4" font-size="8.6" fill="#b5b5b5" font-family="Liberation Sans, sans-serif" text-anchor="middle" >100%</text>
<circle cx="448.2" cy="777.9" r="22.1" fill="#e34a33" stroke="#3d372f" stroke-width="0.7"/>
<circle cx="442.1" cy="777.9" r="22.1" fill="#e34a33" stroke="#3d372f" stroke-width="0.7"/>
<circle cx="432.0" cy="777.9" r="22.1" fill="#fc8d59" stroke="#3d372f" stroke-width="0.7"/>
<circle cx="420.1" cy="777.9" r="22.1" fill="#fc8d59" stroke="#3d372f" stroke-width="0.7"/>
<circle cx="413.2" cy="777.9" r="22.1" fill="#fc8d59" stroke="#3d372f" stroke-width="0.7"/>
<circle cx="405.6" cy="777.9" r="22.1" fill="#fc8d59" stroke="#3d372f" stroke-width="0.7"/>
<circle cx="377.9" cy="777.9" r="22.1" fill="#fdcc8a" stroke="#3d372f" stroke-width="0.7"/>
<circle cx="392.8" cy="777.9" r="22.1" fill="#fdcc8a" stroke="#3d372f" stroke-width="0.7"/>
<rect x="403.9" y="738.5" width="1.8" height="77.5" fill="#000"/>
<text x="408.6" y="813.0" font-size="11.3" fill="#222" font-family="Liberation Sans, sans-serif" stroke="#222" stroke-width="0.3" >Median</text>
<text x="311.4" y="830.4" font-size="8.6" fill="#b5b5b5" font-family="Liberation Sans, sans-serif" text-anchor="middle" >0%</text>
<text x="353.5" y="830.4" font-size="8.6" fill="#b5b5b5" font-family="Liberation Sans, sans-serif" text-anchor="middle" >20%</text>
<text x="395.6" y="830.4" font-size="8.6" fill="#b5b5b5" font-family="Liberation Sans, sans-serif" text-anchor="middle" >40%</text>
<text x="437.7" y="830.4" font-size="8.6" fill="#b5b5b5" font-family="Liberation Sans, sans-serif" text-anchor="middle" >60%</text>
<text x="479.8" y="830.4" font-size="8.6" fill="#b5b5b5" font-family="Liberation Sans, sans-serif" text-anchor="middle" >80%</text>
<text x="521.9" y="830.4" font-size="8.6" fill="#b5b5b5" font-family="Liberation Sans, sans-serif" text-anchor="middle" >100%</text>
<rect x="5" y="872" width="638" height="84" fill="#f4f4f4"/>
<text x="10.2" y="888.1" font-size="8.3" fill="#666" font-family="Liberation Sans, sans-serif" font-weight="700" textLength="21.0" lengthAdjust="spacing" >Note:</text>
<text x="34.0" y="888.1" font-size="8.3" fill="#777" font-family="Liberation Sans, sans-serif" textLength="599.6" lengthAdjust="spacing" >These visualizations are available for states participating in a joint statistical project with the U.S. Census Bureau, the USDA Food and Nutrition Service, and</text>
<text x="10.2" y="900.4" font-size="8.3" fill="#777" font-family="Liberation Sans, sans-serif" textLength="617.0" lengthAdjust="spacing" >the USDA Economic Research Service and for which at least 4 years of SNAP administrative records are available. We will continue to update this page with more</text>
<text x="10.2" y="912.6" font-size="8.3" fill="#777" font-family="Liberation Sans, sans-serif" textLength="591.3" lengthAdjust="spacing" >states and years of data as data become available. Estimates posing a potential disclosure risk are grayed out in maps and are not shown in accompanying</text>
<text x="10.2" y="924.9" font-size="8.3" fill="#777" font-family="Liberation Sans, sans-serif" textLength="618.2" lengthAdjust="spacing" >graphics. All estimates are approved for release by the Census Bureau’s Disclosure Review Board (CBDRB-FY19-167 and 575; CBDRB-FY20-154; CBDRB-FY21-108;</text>
<text x="10.2" y="937.1" font-size="8.3" fill="#777" font-family="Liberation Sans, sans-serif" textLength="352.4" lengthAdjust="spacing" >CBDRB-FY22-190; CBDRB-FY23-376; and CBDRB-FY24-358). More information is available at</text>
<text x="10.2" y="949.4" font-size="8.3" fill="#5b9bc4" font-family="Liberation Sans, sans-serif" textLength="334.4" lengthAdjust="spacing" >https://www.census.gov/library/visualizations/interactive/snap-eligibility-access.html</text>
<rect x="10.2" y="950.1" width="334.4" height="0.6" fill="#5b9bc4"/>
<text x="346.6" y="949.4" font-size="8.3" fill="#777" font-family="Liberation Sans, sans-serif" >.</text>
<text x="23.6" y="980.8" font-size="9.3" fill="#205493" font-family="Liberation Serif, serif" textLength="56.5" lengthAdjust="spacing" stroke="#205493" stroke-width="0.35" >United States</text>
<text x="81.0" y="977.5" font-size="4.2" fill="#205493" font-family="Liberation Sans, sans-serif" >®</text>
<text transform="translate(9.0,996.9) scale(0.785,1)" x="0" y="0" font-size="25.4" fill="#205493" font-family="Liberation Sans, sans-serif" font-weight="700" stroke="#205493" stroke-width="0.5" >Census</text>
<rect x="9.3" y="999.8" width="47.6" height="2.9" rx="1.45" fill="#205493"/>
<text x="59.4" y="1002.8" font-size="6.9" fill="#205493" font-family="Liberation Sans, sans-serif" font-weight="700" textLength="20.9" lengthAdjust="spacing" >Bureau</text>
<rect x="92.6" y="973.9" width="0.7" height="28.8" fill="#8f8f8f"/>
<text x="101.9" y="983.3" font-size="7.3" fill="#222" font-family="Liberation Sans, sans-serif" font-weight="700" textLength="100.8" lengthAdjust="spacing" >U.S. Department of Commerce</text>
<text x="101.9" y="990.0" font-size="5.3" fill="#222" font-family="Liberation Sans, sans-serif" font-weight="700" textLength="57.0" lengthAdjust="spacing" >U.S. CENSUS BUREAU</text>
<text x="101.9" y="998.5" font-size="6.3" fill="#222" font-family="Liberation Sans, sans-serif" font-weight="700" font-style="italic" textLength="35.6" lengthAdjust="spacing" stroke="#222" stroke-width="0.2" >census.gov</text>
<text transform="translate(298.3,987.6) scale(0.872,1)" x="0" y="0" font-size="30.6" fill="#123c9c" font-family="Liberation Serif, serif" font-weight="700" >USDA</text>
<rect x="299" y="989.9" width="72" height="24.7" fill="#0b6b2b"/>
<path d="M299 1001.2 C320 995.9 345 993.5 371 992.8 V995.2 C345 996.2 320 999.6 299 1005.2 Z" fill="#fff"/>
<path d="M299 997.7 C308 996.4 316 994.9 325 993.5" fill="none" stroke="#fff" stroke-width="1.7"/>
<path d="M299 993.7 C306 993.3 314 992.7 321.5 992.1" fill="none" stroke="#fff" stroke-width="1.1"/>
<text x="499.9" y="978.4" font-size="10.9" fill="#333" font-family="Liberation Sans, sans-serif" textLength="140.9" lengthAdjust="spacing" >Source: American Community</text>
<text x="483.3" y="993.1" font-size="10.9" fill="#333" font-family="Liberation Sans, sans-serif" textLength="157.5" lengthAdjust="spacing" >Survey responses linked to SNAP</text>
<text x="531.3" y="1007.7" font-size="10.9" fill="#333" font-family="Liberation Sans, sans-serif" textLength="109.5" lengthAdjust="spacing" >administrative records</text>
</svg>
</body></html>
